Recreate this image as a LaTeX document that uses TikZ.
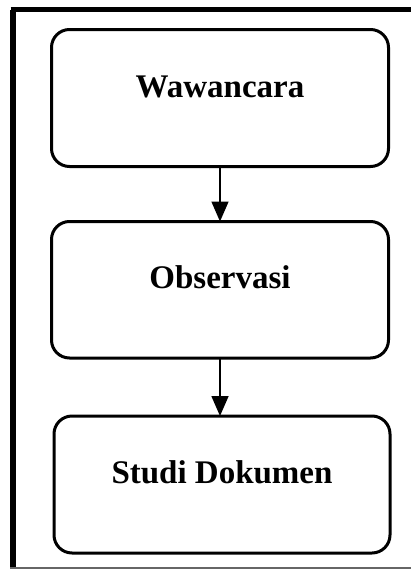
\documentclass[tikz,border=0pt]{standalone}
\usepackage{fontspec}
\setmainfont{Liberation Serif}
\usetikzlibrary{arrows.meta}
\tikzset{
  stepbox/.style={draw=black, line width=3pt, rounded corners=18pt, fill=none},
  lbl/.style={anchor=base, inner sep=0pt, font=\bfseries\fontsize{33}{40}\selectfont},
  flow/.style={draw=black, line width=1.6pt, -{Triangle[length=20pt,width=17pt]}}
}
\begin{document}
\begin{tikzpicture}[x=1pt,y=1pt]
\useasboundingbox (0,0) rectangle (411,-570);
% outer frame (left, top thick; bottom thin)
\coordinate (ftl) at (13,-9.5);
\coordinate (fbl) at (13,-568);
\coordinate (ftr) at (411,-9.5);
\coordinate (fbr) at (411,-568);
\draw[line width=6pt] (fbl) -- (13,-9.5);
\draw[line width=5pt] (10.5,-9.5) -- (ftr);
\draw[line width=1.2pt, draw=black!60] (10,-568) -- (fbr);
% boxes
\draw[stepbox] (51.5,-29.5) rectangle (388.5,-166.5);
\coordinate (b1) at (220,-166.5);
\draw[stepbox] (51.5,-221.5) rectangle (388.5,-358);
\coordinate (b2t) at (220,-221.5);
\coordinate (b2) at (220,-358);
\draw[stepbox] (54,-416) rectangle (390,-553);
\coordinate (b3t) at (220,-416);
% labels
\node[lbl] (w) at (220,-97) {Wawancara};
\node[lbl] (o) at (220,-288.5) {Observasi};
\node[lbl] (s) at (222,-483) {Studi Dokumen};
% arrows
\draw[flow] (b1) -- (b2t);
\draw[flow] (b2) -- (b3t);
\end{tikzpicture}
\end{document}
